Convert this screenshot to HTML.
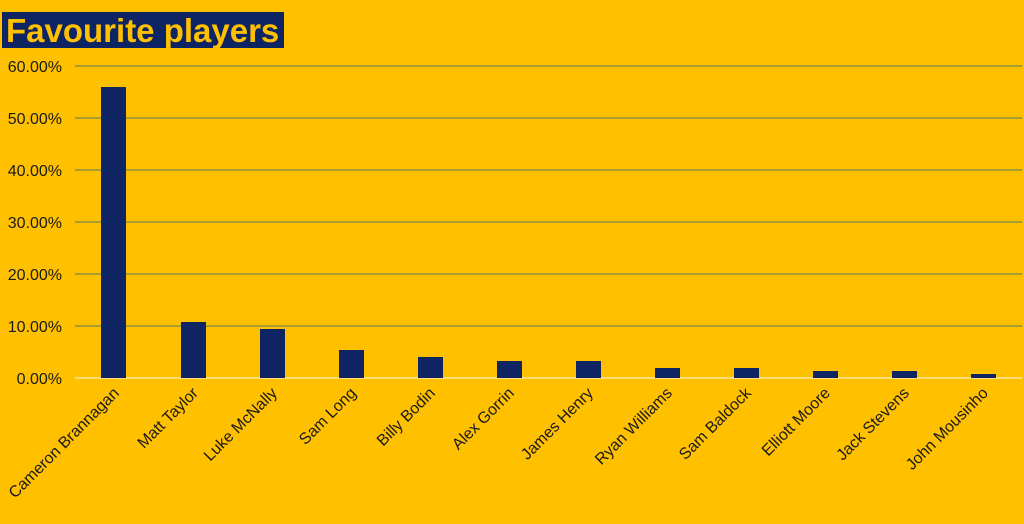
<!DOCTYPE html>
<html><head><style>body{margin:0;background:#FFC000}svg{display:block}</style></head><body>
<svg width="1024" height="524" xmlns="http://www.w3.org/2000/svg" font-family="Liberation Sans, sans-serif">
<rect width="1024" height="524" fill="#FFC000"/>
<rect x="2" y="12" width="282" height="36" fill="#0E2463"/>
<text x="6" y="42" font-size="33" font-weight="bold" fill="#FFC000">Favourite players</text>
<g stroke="#4E7A5E" stroke-width="1">
<line x1="75" y1="66" x2="1022" y2="66"/><line x1="75" y1="118" x2="1022" y2="118"/>
<line x1="75" y1="170" x2="1022" y2="170"/><line x1="75" y1="222" x2="1022" y2="222"/>
<line x1="75" y1="274" x2="1022" y2="274"/><line x1="75" y1="326" x2="1022" y2="326"/>
</g>
<line x1="75" y1="378" x2="1022" y2="378" stroke="#FFE7A0" stroke-width="1.5"/>
<g font-size="16" fill="#1a1a1a" text-anchor="end">
<text x="62" y="72">60.00%</text><text x="62" y="124">50.00%</text><text x="62" y="176">40.00%</text>
<text x="62" y="228">30.00%</text><text x="62" y="280">20.00%</text><text x="62" y="332">10.00%</text>
<text x="62" y="384">0.00%</text>
</g>
<g fill="#0E2463">
<rect x="101" y="87" width="25" height="291"/>
<rect x="181" y="322" width="25" height="56"/>
<rect x="260" y="329" width="25" height="49"/>
<rect x="339" y="350" width="25" height="28"/>
<rect x="418" y="357" width="25" height="21"/>
<rect x="497" y="361" width="25" height="17"/>
<rect x="576" y="361" width="25" height="17"/>
<rect x="655" y="368" width="25" height="10"/>
<rect x="734" y="368" width="25" height="10"/>
<rect x="813" y="371" width="25" height="7"/>
<rect x="892" y="371" width="25" height="7"/>
<rect x="971" y="374" width="25" height="4"/>
</g>
<g font-size="16" fill="#1a1a1a" text-anchor="end">
<text transform="translate(120,394) rotate(-45)">Cameron Brannagan</text>
<text transform="translate(199,394) rotate(-45)">Matt Taylor</text>
<text transform="translate(278,394) rotate(-45)">Luke McNally</text>
<text transform="translate(357,394) rotate(-45)">Sam Long</text>
<text transform="translate(436,394) rotate(-45)">Billy Bodin</text>
<text transform="translate(515,394) rotate(-45)">Alex Gorrin</text>
<text transform="translate(594,394) rotate(-45)">James Henry</text>
<text transform="translate(673,394) rotate(-45)">Ryan Williams</text>
<text transform="translate(752,394) rotate(-45)">Sam Baldock</text>
<text transform="translate(831,394) rotate(-45)">Elliott Moore</text>
<text transform="translate(910,394) rotate(-45)">Jack Stevens</text>
<text transform="translate(989,394) rotate(-45)">John Mousinho</text>
</g>
</svg>
</body></html>
